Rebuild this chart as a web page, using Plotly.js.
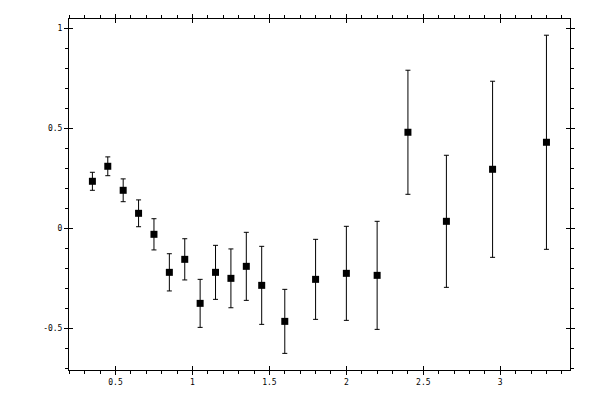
<!DOCTYPE html>
<html>
<head>
<meta charset="utf-8">
<script src="https://cdn.plot.ly/plotly-3.0.1.min.js"></script>
<style>
  body { margin: 0; background: #fff; }
  #myDiv { width: 600px; height: 400px; }
</style>
</head>
<body>
<div id="myDiv"></div>
<script>
// values
var xVals = [0.35, 0.45, 0.55, 0.65, 0.75, 0.85, 0.95, 1.05, 1.15, 1.25,
             1.35, 1.45, 1.6, 1.8, 2.0, 2.2, 2.4, 2.65, 2.95, 3.3];
var yVals = [0.235, 0.31, 0.19, 0.075, -0.03, -0.22, -0.155, -0.375, -0.22, -0.25,
             -0.19, -0.285, -0.465, -0.255, -0.225, -0.235, 0.48, 0.035, 0.295, 0.43];
var yErr = [0.045, 0.047, 0.057, 0.067, 0.078, 0.093, 0.103, 0.12, 0.135, 0.147,
            0.17, 0.195, 0.16, 0.2, 0.235, 0.27, 0.31, 0.33, 0.44, 0.535];

var xTickVals = [0.5, 1, 1.5, 2, 2.5, 3];
var xTickText = ['0.5', '1', '1.5', '2', '2.5', '3'];
var yTickVals = [-0.5, 0, 0.5, 1];
var yTickText = ['-0.5', '0', '0.5', '1'];

var xRange = [0.198, 3.453];
var yRange = [-0.708, 1.046];

var tickFont = {family: 'DejaVu Sans Mono, monospace', size: 8, color: '#000'};

var points = {
    type: 'scatter',
    mode: 'markers',
    x: xVals,
    y: yVals,
    marker: {symbol: 'square', size: 7, color: '#000'},
    error_y: {type: 'data', array: yErr, visible: true, color: '#000', thickness: 1, width: 2.5},
    showlegend: false,
    cliponaxis: false
};

// empty trace so the overlay axes (inside half of the major ticks) get drawn
var overlay = {type: 'scatter', mode: 'markers', x: [], y: [], xaxis: 'x2', yaxis: 'y2', showlegend: false};

var layout = {
    width: 600,
    height: 400,
    margin: {l: 69, r: 30, t: 19, b: 30},
    paper_bgcolor: '#fff',
    plot_bgcolor: '#fff',
    showlegend: false,
    xaxis: {
        range: xRange,
        showgrid: false,
        zeroline: false,
        showline: true,
        linecolor: '#000',
        linewidth: 1,
        mirror: 'ticks',
        ticks: 'outside',
        ticklen: 4,
        tickcolor: '#000',
        tickvals: xTickVals,
        ticktext: xTickText,
        tickfont: tickFont,
        minor: {dtick: 0.1, tick0: 0, ticks: 'outside', ticklen: 3, tickcolor: '#000', showgrid: false}
    },
    yaxis: {
        range: yRange,
        showgrid: false,
        zeroline: false,
        showline: true,
        linecolor: '#000',
        linewidth: 1,
        mirror: 'ticks',
        ticks: 'outside',
        ticklen: 4,
        tickcolor: '#000',
        tickvals: yTickVals,
        ticktext: yTickText,
        tickfont: tickFont,
        minor: {dtick: 0.1, tick0: 0, ticks: 'outside', ticklen: 3, tickcolor: '#000', showgrid: false}
    },
    xaxis2: {
        overlaying: 'x',
        range: xRange,
        showgrid: false,
        zeroline: false,
        showline: false,
        mirror: 'ticks',
        ticks: 'inside',
        ticklen: 4,
        tickcolor: '#000',
        tickvals: xTickVals,
        showticklabels: false
    },
    yaxis2: {
        overlaying: 'y',
        range: yRange,
        showgrid: false,
        zeroline: false,
        showline: false,
        mirror: 'ticks',
        ticks: 'inside',
        ticklen: 4,
        tickcolor: '#000',
        tickvals: yTickVals,
        showticklabels: false
    }
};

Plotly.newPlot('myDiv', [points, overlay], layout, {staticPlot: true});
</script>
</body>
</html>
